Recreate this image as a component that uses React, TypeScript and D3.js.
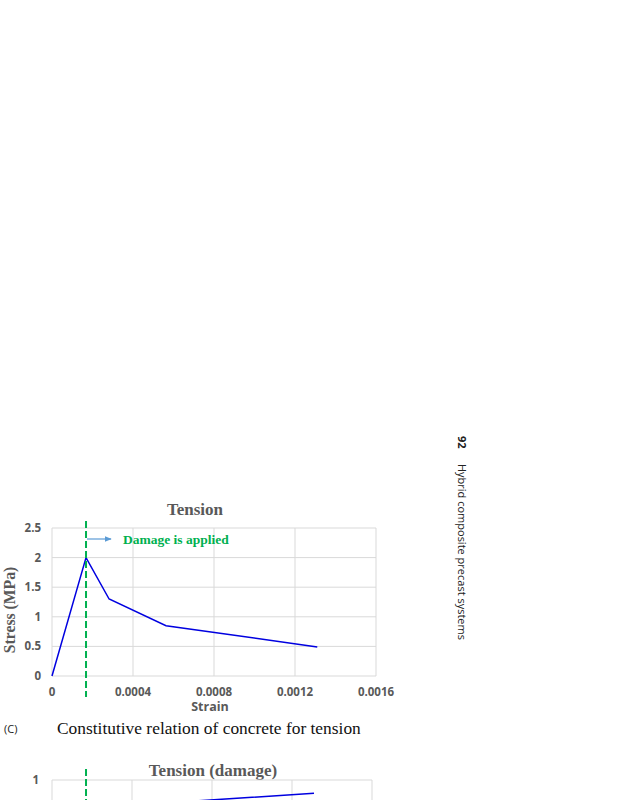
import React from "react";
import * as d3 from "d3";

const strain = [0, 0.000168, 0.000282, 0.000563, 0.00131];
const stress = [0, 2.0, 1.3, 0.85, 0.49];
const xTicks = [0, 0.0004, 0.0008, 0.0012, 0.0016];
const xTickLabels = ["0", "0.0004", "0.0008", "0.0012", "0.0016"];
const yTicks = [0, 0.5, 1, 1.5, 2, 2.5];
const yTickLabels = ["0", "0.5", "1", "1.5", "2", "2.5"];
const damageStrain = [0.000168, 0.000282, 0.000563, 0.00131];
const damageValues = [0, 0.55, 0.845, 0.91];
const damageYTicks = [0, 0.2, 0.4, 0.6, 0.8, 1];
const damageStrainLine = 0.000168;

export default function App() {
  const W = 625, H = 800;
  const x = d3.scaleLinear().domain([0, 0.0016]).range([52, 376]);
  const y = d3.scaleLinear().domain([0, 2.5]).range([676, 528]);
  const line = d3.line<number>().x((_, i) => x(strain[i])).y((d) => y(d));
  const y2 = d3.scaleLinear().domain([0, 1]).range([928, 780]);
  const x2 = d3.scaleLinear().domain([0, 0.0016]).range([52, 372]);
  const line2 = d3.line<number>().x((_, i) => x2(damageStrain[i])).y((d) => y2(d));
  const grid = "#d9d9d9";
  const tickColor = "#595959";
  const sans = "'Open Sans', 'Noto Sans', sans-serif";
  const serif = "'Liberation Serif', 'DejaVu Serif', serif";
  return (
    <svg width={W} height={H} style={{ position: "absolute", left: 0, top: 0, background: "#fff" }}>
      <defs>
        <clipPath id="c2">
          <rect x={0} y={0} width={W} height={H} />
        </clipPath>
        <marker id="arr" viewBox="0 0 10 10" refX="9" refY="5" markerWidth="6" markerHeight="6" orient="auto">
          <path d="M0,1 L10,5 L0,9 z" fill="#5b9bd5" />
        </marker>
      </defs>
      {/* side text */}
      <g transform="translate(458,436) rotate(90)">
        <text x={0} y={0} fontFamily={sans} fontSize={11} fontWeight="bold" fill="#222">92</text>
        <text x={28} y={0} fontFamily={sans} fontSize={11} fill="#222">Hybrid composite precast systems</text>
      </g>
      {/* Chart 1 */}
      <text x={195} y={515} textAnchor="middle" fontFamily={serif} fontSize={17} fontWeight="bold" fill="#595959">Tension</text>
      {yTicks.map((t) => (
        <line key={"gy" + t} x1={52} x2={376} y1={y(t)} y2={y(t)} stroke={grid} strokeWidth={1} />
      ))}
      {xTicks.map((t) => (
        <line key={"gx" + t} x1={x(t)} x2={x(t)} y1={528} y2={676} stroke={grid} strokeWidth={1} />
      ))}
      {yTicks.map((t, i) => (
        <text key={"yl" + t} x={41} y={y(t) + 4} textAnchor="end" fontFamily={sans} fontSize={11.5} fontWeight="bold" fill={tickColor}>{yTickLabels[i]}</text>
      ))}
      {xTicks.map((t, i) => (
        <text key={"xl" + t} x={x(t)} y={696} textAnchor="middle" fontFamily={sans} fontSize={11.5} fontWeight="bold" fill={tickColor}>{xTickLabels[i]}</text>
      ))}
      <text x={210} y={711} textAnchor="middle" fontFamily={sans} fontSize={12.5} fontWeight="bold" fill={tickColor}>Strain</text>
      <text transform={`translate(15,610) rotate(-90)`} textAnchor="middle" fontFamily={serif} fontSize={15.7} fontWeight="bold" fill={tickColor}>Stress (MPa)</text>
      <path d={line(stress) || ""} fill="none" stroke="#0000e0" strokeWidth={1.5} />
      <line x1={x(strain[1])} x2={x(strain[1])} y1={521} y2={697} stroke="#00b050" strokeWidth={2} strokeDasharray="7,3" />
      <line x1={x(strain[1]) + 1} x2={x(strain[1]) + 25} y1={539} y2={539} stroke="#5b9bd5" strokeWidth={1.2} markerEnd="url(#arr)" />
      <text x={123} y={544} fontFamily={serif} fontSize={13.5} fontWeight="bold" fill="#00b050">Damage is applied</text>
      {/* caption */}
      <text x={4} y={733} fontFamily={sans} fontSize={11} fill="#222">(C)</text>
      <text x={57} y={734} fontFamily={serif} fontSize={17.4} fill="#111">Constitutive relation of concrete for tension</text>
      {/* Chart 2 */}
      <g clipPath="url(#c2)">
        <text x={213} y={776} textAnchor="middle" fontFamily={serif} fontSize={17} fontWeight="bold" fill="#595959">Tension (damage)</text>
        {damageYTicks.map((t) => (
          <line key={"g2y" + t} x1={52} x2={372} y1={y2(t)} y2={y2(t)} stroke={grid} strokeWidth={1} />
        ))}
        {xTicks.map((t) => (
          <line key={"g2x" + t} x1={x2(t)} x2={x2(t)} y1={780} y2={928} stroke={grid} strokeWidth={1} />
        ))}
        <text x={39} y={y2(1) + 4} textAnchor="end" fontFamily={sans} fontSize={11.5} fontWeight="bold" fill={tickColor}>1</text>
        <path d={line2(damageValues) || ""} fill="none" stroke="#0000e0" strokeWidth={1.5} />
        <line x1={x(damageStrainLine)} x2={x(damageStrainLine)} y1={769} y2={950} stroke="#00b050" strokeWidth={2} strokeDasharray="7,3" />
      </g>
    </svg>
  );
}
